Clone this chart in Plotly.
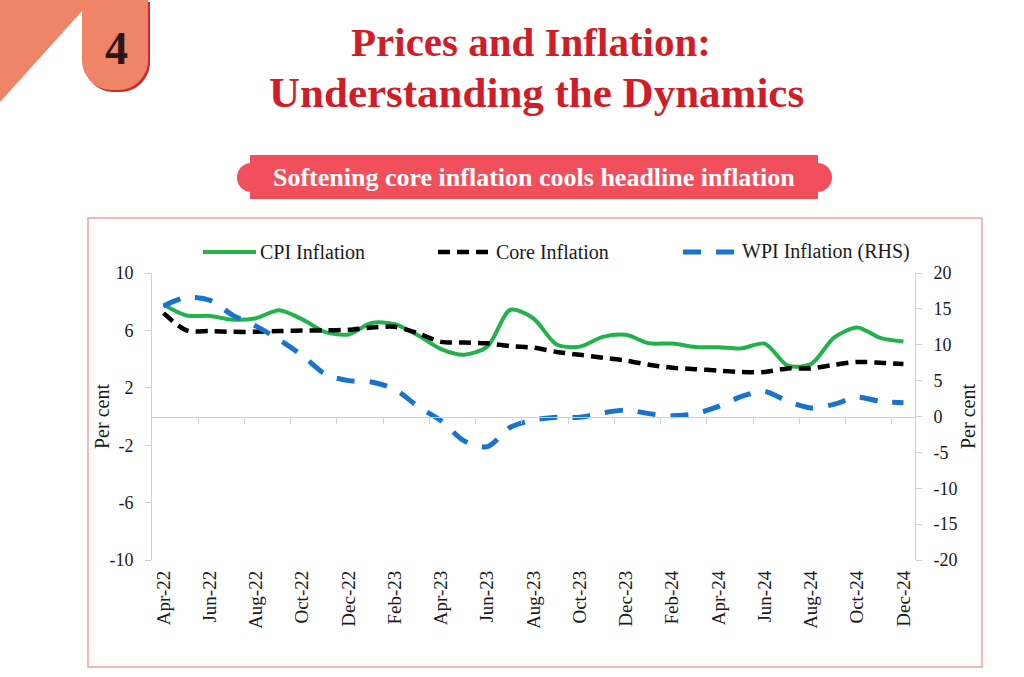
import plotly.graph_objects as go

# ---------------- data ----------------
months = ["Apr-22", "May-22", "Jun-22", "Jul-22", "Aug-22", "Sep-22", "Oct-22", "Nov-22", "Dec-22",
          "Jan-23", "Feb-23", "Mar-23", "Apr-23", "May-23", "Jun-23", "Jul-23", "Aug-23", "Sep-23",
          "Oct-23", "Nov-23", "Dec-23", "Jan-24", "Feb-24", "Mar-24", "Apr-24", "May-24", "Jun-24",
          "Jul-24", "Aug-24", "Sep-24", "Oct-24", "Nov-24", "Dec-24"]
cpi_inflation = [7.79, 7.04, 7.01, 6.75, 6.85, 7.41, 6.77, 5.88, 5.72,
                 6.52, 6.44, 5.66, 4.70, 4.31, 4.87, 7.44, 6.83, 5.02, 4.87, 5.55, 5.69,
                 5.10, 5.09, 4.85, 4.83, 4.75, 5.08, 3.54, 3.65, 5.49, 6.21, 5.48, 5.22]
core_inflation = [7.2, 6.0, 5.95, 5.9, 5.9, 5.95, 6.0, 6.0, 6.05,
                  6.2, 6.25, 5.8, 5.2, 5.15, 5.1, 4.9, 4.8, 4.5, 4.3, 4.1, 3.9,
                  3.6, 3.4, 3.3, 3.2, 3.1, 3.1, 3.35, 3.35, 3.6, 3.8, 3.75, 3.65]
wpi_inflation = [15.4, 16.6, 16.2, 14.1, 12.6, 10.7, 8.5, 5.9, 5.0,
                 4.8, 3.8, 1.4, -0.6, -3.4, -4.2, -1.5, -0.5, -0.1, -0.1, 0.5, 0.9,
                 0.4, 0.1, 0.4, 1.4, 2.8, 3.5, 2.1, 1.2, 1.7, 2.7, 2.1, 1.9]
left_ticks = [-10, -6, -2, 2, 6, 10]
left_tick_text = ["-10", "-6", "-2", "2", "6", "10"]
right_ticks = [-20, -15, -10, -5, 0, 5, 10, 15, 20]
right_tick_text = ["-20", "-15", "-10", "-5", "0", "5", "10", "15", "20"]
series_names = ["CPI Inflation", "Core Inflation", "WPI Inflation (RHS)"]

# ---------------- geometry helpers ----------------
W, H = 1024, 677
ML, MR, MT, MB = 152, 109, 273, 117
PW, PH = W - ML - MR, H - MT - MB


def fx(px):
    return (px - ML) / PW


def fy(py):
    return (H - MB - py) / PH


SERIF = "Liberation Serif"
TXT = "#1a1a1a"
GREEN = "#22b24c"
BLACK = "#000000"
BLUE = "#1873cc"
AXIS_GREY = "#d0d0d0"

idx = list(range(len(months)))

fig = go.Figure()
fig.add_trace(go.Scatter(x=idx, y=cpi_inflation, mode="lines", name=series_names[0],
                         line=dict(color=GREEN, width=4, shape="spline", smoothing=0.8),
                         yaxis="y", xaxis="x"))
fig.add_trace(go.Scatter(x=idx, y=core_inflation, mode="lines", name=series_names[1],
                         line=dict(color=BLACK, width=4.5, dash="12px,7px", shape="spline", smoothing=0.8),
                         yaxis="y", xaxis="x"))
fig.add_trace(go.Scatter(x=idx, y=wpi_inflation, mode="lines", name=series_names[2],
                         line=dict(color=BLUE, width=5, dash="18px,15px", shape="spline", smoothing=0.8),
                         yaxis="y2", xaxis="x"))
# dummy trace so the zero-line category axis is drawn
fig.add_trace(go.Scatter(x=[], y=[], xaxis="x2", yaxis="y", showlegend=False, hoverinfo="skip"))

boundaries = [i + 0.5 for i in idx[1:-1:2]]

fig.update_layout(
    width=W, height=H,
    margin=dict(l=ML, r=MR, t=MT, b=MB, pad=0),
    paper_bgcolor="white", plot_bgcolor="white",
    showlegend=False,
    font=dict(family=SERIF, color=TXT, size=18),
    xaxis=dict(range=[-0.5, len(months) - 0.5], tickvals=idx[::2], ticktext=months[::2],
               tickangle=-90, tickfont=dict(size=19, family=SERIF, color=TXT),
               showgrid=False, zeroline=False, showline=False, ticks="",
               ticklabelstandoff=6),
    xaxis2=dict(overlaying="x", anchor="free", position=0.5, side="bottom",
                range=[-0.5, len(months) - 0.5], tickvals=boundaries,
                ticks="outside", ticklen=6, tickcolor=AXIS_GREY, tickwidth=1,
                showticklabels=False, showgrid=False, zeroline=False,
                showline=True, linecolor=AXIS_GREY, linewidth=1),
    yaxis=dict(range=[-10, 10], tickvals=left_ticks, ticktext=left_tick_text,
               showgrid=False, zeroline=False,
               showline=True, linecolor=AXIS_GREY, linewidth=1,
               ticks="outside", ticklen=6, tickcolor=AXIS_GREY,
               tickfont=dict(size=18, family=SERIF, color=TXT), ticklabelstandoff=8),
    yaxis2=dict(range=[-20, 20], tickvals=right_ticks, ticktext=right_tick_text,
                overlaying="y", side="right",
                showgrid=False, zeroline=False, showline=True, linecolor=AXIS_GREY, linewidth=1,
                ticks="outside", ticklen=6, tickcolor=AXIS_GREY,
                tickfont=dict(size=18, family=SERIF, color=TXT), ticklabelstandoff=8),
)

shapes = []
annotations = []

# chart frame
shapes.append(dict(type="rect", xref="paper", yref="paper", x0=fx(88), x1=fx(982), y0=fy(218), y1=fy(667),
                   line=dict(color="#f3a0a6", width=1.5), fillcolor="rgba(0,0,0,0)", layer="below"))


def P(x, y):
    return f"{fx(x)},{fy(y)}"


# top-left decoration: triangle
shapes.append(dict(type="path", xref="paper", yref="paper",
                   path=f"M {P(0,0)} L {P(92,0)} L {P(0,102)} Z",
                   fillcolor="#ef8466", line=dict(width=0)))


def tab_path(dx, dy):
    x0, x1, ytop, ybot, r = 82 + dx, 148 + dx, 0 + dy, 90 + dy, 30
    k = 0.5523 * r
    return (f"M {P(x0, ytop)} L {P(x1, ytop)} L {P(x1, ybot - r)} "
            f"C {P(x1, ybot - r + k)} {P(x1 - r + k, ybot)} {P(x1 - r, ybot)} "
            f"L {P(x0 + r, ybot)} "
            f"C {P(x0 + r - k, ybot)} {P(x0, ybot - r + k)} {P(x0, ybot - r)} Z")


shapes.append(dict(type="path", xref="paper", yref="paper", path=tab_path(2, 2),
                   fillcolor="#d3262b", line=dict(width=0)))
shapes.append(dict(type="path", xref="paper", yref="paper", path=tab_path(0, 0),
                   fillcolor="#ef8466", line=dict(width=0)))
annotations.append(dict(text="<b>4</b>", x=fx(116), y=fy(48), xref="paper", yref="paper",
                        showarrow=False, xanchor="center", yanchor="middle",
                        font=dict(family=SERIF, size=46, color="#2a1616")))

# title
TITLE_RED = "#d11d27"
annotations.append(dict(text="<b>Prices and Inflation:</b>", x=fx(531), y=fy(42), xref="paper", yref="paper",
                        showarrow=False, xanchor="center", yanchor="middle",
                        font=dict(family=SERIF, size=41, color=TITLE_RED)))
annotations.append(dict(text="<b>Understanding the Dynamics</b>", x=fx(536), y=fy(92), xref="paper", yref="paper",
                        showarrow=False, xanchor="center", yanchor="middle",
                        font=dict(family=SERIF, size=43, color=TITLE_RED)))

# banner
BANNER = "#f24f5c"
shapes.append(dict(type="rect", xref="paper", yref="paper", x0=fx(250), x1=fx(818), y0=fy(155), y1=fy(199),
                   fillcolor=BANNER, line=dict(width=0)))
shapes.append(dict(type="circle", xref="paper", yref="paper", x0=fx(237), x1=fx(265), y0=fy(163), y1=fy(192),
                   fillcolor=BANNER, line=dict(width=0)))
shapes.append(dict(type="circle", xref="paper", yref="paper", x0=fx(803), x1=fx(832), y0=fy(163), y1=fy(192),
                   fillcolor=BANNER, line=dict(width=0)))
annotations.append(dict(text="<b>Softening core inflation cools headline inflation</b>", x=fx(534), y=fy(177),
                        xref="paper", yref="paper", showarrow=False, xanchor="center", yanchor="middle",
                        font=dict(family=SERIF, size=26, color="white")))

# manual legend
leg_y = 252
legend_items = [
    (203, 256, 258, GREEN, 4, "solid", series_names[0]),
    (438, 493, 494, BLACK, 4.5, "12px,7px", series_names[1]),
    (683, 738, 740, BLUE, 5, "18px,15px", series_names[2]),
]
for x0, x1, tx, col, w, dash, name in legend_items:
    shapes.append(dict(type="line", xref="paper", yref="paper", x0=fx(x0), x1=fx(x1), y0=fy(leg_y), y1=fy(leg_y),
                       line=dict(color=col, width=w, dash=dash)))
    annotations.append(dict(text=name, x=fx(tx), y=fy(leg_y), xref="paper", yref="paper", showarrow=False,
                            xanchor="left", yanchor="middle", font=dict(family=SERIF, size=20, color=TXT)))

# axis titles
annotations.append(dict(text="Per cent", x=fx(102), y=fy(417), xref="paper", yref="paper", showarrow=False,
                        textangle=-90, xanchor="center", yanchor="middle",
                        font=dict(family=SERIF, size=20, color=TXT)))
annotations.append(dict(text="Per cent", x=fx(968), y=fy(417), xref="paper", yref="paper", showarrow=False,
                        textangle=-90, xanchor="center", yanchor="middle",
                        font=dict(family=SERIF, size=20, color=TXT)))

fig.update_layout(shapes=shapes, annotations=annotations)
fig.write_html("out.html")
